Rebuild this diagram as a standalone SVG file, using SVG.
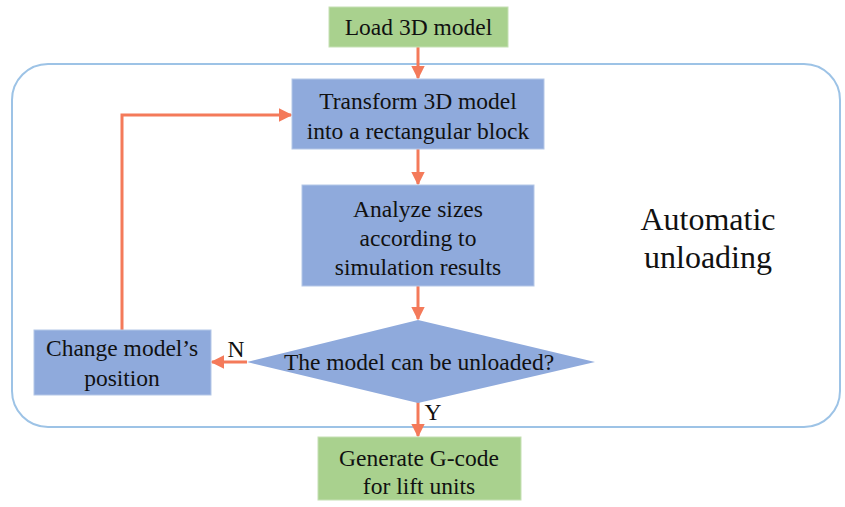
<svg xmlns="http://www.w3.org/2000/svg" width="845" height="507" viewBox="0 0 845 507">
  <defs>
    <marker id="arrow" viewBox="0 0 10 10" refX="9" refY="5" markerWidth="4.5" markerHeight="4.5" orient="auto" markerUnits="strokeWidth">
      <path d="M0,0 L10,5 L0,10 z" fill="#F47A5A"/>
    </marker>
  </defs>
  <style>
    .green { fill: #A9D18E; stroke: #C5E0B4; stroke-width: 1; }
    .blue { fill: #8FAADC; stroke: #B4C7E7; stroke-width: 1; }
    .label { font-family: "Liberation Serif", "Times New Roman", serif; font-size: 23.5px; fill: #111; text-anchor: middle; }
    .big { font-size: 32px; }
    .edge { fill: none; stroke: #F47A5A; stroke-width: 3; marker-end: url(#arrow); }
  </style>
  <rect width="845" height="507" fill="#fff"/>

  <!-- automatic unloading frame -->
  <g id="frame">
    <rect x="12" y="64" width="828" height="363" rx="36" ry="36" fill="none" stroke="#9DC3E6" stroke-width="2"/>
    <text class="label big" x="708" y="230">Automatic</text>
    <text class="label big" x="708" y="268">unloading</text>
  </g>

  <g id="connectors">
    <line class="edge" x1="418" y1="47" x2="418" y2="78"/>
    <line class="edge" x1="418" y1="149" x2="418" y2="184"/>
    <line class="edge" x1="418" y1="286" x2="418" y2="319"/>
    <line class="edge" x1="247" y1="362" x2="212" y2="362"/>
    <polyline class="edge" points="122,330 122,115 291,115"/>
    <line class="edge" x1="418" y1="402" x2="418" y2="436"/>
    <text class="label" x="236" y="357">N</text>
    <text class="label" x="433" y="420">Y</text>
  </g>

  <g id="load">
    <rect class="green" x="329" y="7" width="179" height="40"/>
    <text class="label" x="418.5" y="35">Load 3D model</text>
  </g>

  <g id="transform">
    <rect class="blue" x="292" y="79" width="252" height="70"/>
    <text class="label" x="418" y="109">Transform 3D model</text>
    <text class="label" x="418" y="139">into a rectangular block</text>
  </g>

  <g id="analyze">
    <rect class="blue" x="302" y="185" width="232" height="101"/>
    <text class="label" x="418" y="217">Analyze sizes</text>
    <text class="label" x="418" y="246">according to</text>
    <text class="label" x="418" y="275">simulation results</text>
  </g>

  <g id="decision">
    <polygon points="418,320 595,362 418,403 247,362" fill="#8FAADC"/>
    <text class="label" x="419" y="370">The model can be unloaded?</text>
  </g>

  <g id="change">
    <rect class="blue" x="34" y="330" width="177" height="65"/>
    <text class="label" x="122" y="356">Change model’s</text>
    <text class="label" x="122" y="386">position</text>
  </g>

  <g id="generate">
    <rect class="green" x="318" y="437" width="203" height="63"/>
    <text class="label" x="419" y="466">Generate G-code</text>
    <text class="label" x="419" y="494">for lift units</text>
  </g>
</svg>
